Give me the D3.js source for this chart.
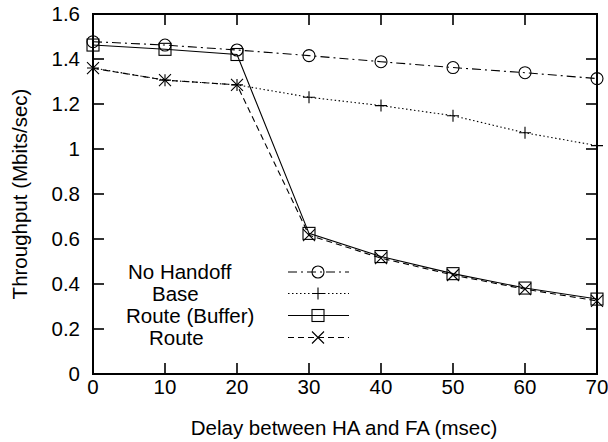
<!DOCTYPE html>
<html>
<head>
<meta charset="utf-8">
<script src="https://cdn.jsdelivr.net/npm/d3@7"></script>
<style>
  body { margin: 0; background: #fff; }
  text { font-family: "Liberation Sans", Arial, sans-serif; fill: #000; }
</style>
</head>
<body>
<div id="chart-area"></div>
<script>
// data
var delays = [0, 10, 20, 30, 40, 50, 60, 70];
var noHandoff = [1.477, 1.462, 1.440, 1.415, 1.388, 1.362, 1.339, 1.313];
var base = [1.360, 1.306, 1.285, 1.230, 1.193, 1.148, 1.072, 1.015];
var routeBuffer = [1.462, 1.443, 1.420, 0.625, 0.522, 0.446, 0.382, 0.333];
var route = [1.359, 1.306, 1.285, 0.617, 0.515, 0.440, 0.377, 0.325];
var xTicks = [0, 10, 20, 30, 40, 50, 60, 70];
var yTicks = [0, 0.2, 0.4, 0.6, 0.8, 1, 1.2, 1.4, 1.6];

var width = 608,
    height = 442;
var plotL = 93, plotR = 597, plotT = 14, plotB = 374;
var fontSize = 20.5;

var svg = d3.select("#chart-area").append("svg")
  .attr("width", width)
  .attr("height", height);

var x = d3.scaleLinear().domain([0, 70]).range([plotL, plotR]);
var y = d3.scaleLinear().domain([0, 1.6]).range([plotB, plotT]);

var series = [
  {name: "No Handoff", values: noHandoff, dash: "9,4,2,4", marker: "circle"},
  {name: "Base", values: base, dash: "1.5,2.5", marker: "plus"},
  {name: "Route (Buffer)", values: routeBuffer, dash: null, marker: "square"},
  {name: "Route", values: route, dash: "6,4", marker: "cross"}
];

// ticks (inward, mirrored)
var tickLen = 11;
xTicks.forEach(function(t) {
  svg.append("line").attr("x1", x(t)).attr("x2", x(t))
    .attr("y1", plotB).attr("y2", plotB - tickLen)
    .attr("stroke", "#000").attr("stroke-width", 1.6);
  svg.append("line").attr("x1", x(t)).attr("x2", x(t))
    .attr("y1", plotT).attr("y2", plotT + tickLen)
    .attr("stroke", "#000").attr("stroke-width", 1.6);
  svg.append("text").attr("x", x(t)).attr("y", 394)
    .attr("text-anchor", "middle").attr("font-size", fontSize).text(t);
});
yTicks.forEach(function(t) {
  svg.append("line").attr("x1", plotL).attr("x2", plotL + tickLen)
    .attr("y1", y(t)).attr("y2", y(t))
    .attr("stroke", "#000").attr("stroke-width", 1.6);
  svg.append("line").attr("x1", plotR).attr("x2", plotR - tickLen)
    .attr("y1", y(t)).attr("y2", y(t))
    .attr("stroke", "#000").attr("stroke-width", 1.6);
  svg.append("text").attr("x", 80).attr("y", y(t) + 7)
    .attr("text-anchor", "end").attr("font-size", fontSize).text(t);
});

svg.append("rect")
  .attr("x", plotL).attr("y", plotT)
  .attr("width", plotR - plotL).attr("height", plotB - plotT)
  .attr("fill", "none").attr("stroke", "#000").attr("stroke-width", 2);

svg.append("text").attr("x", 344).attr("y", 435)
  .attr("text-anchor", "middle").attr("font-size", fontSize)
  .text("Delay between HA and FA (msec)");
svg.append("text")
  .attr("transform", "translate(27," + ((plotT + plotB) / 2) + ") rotate(-90)")
  .attr("text-anchor", "middle").attr("font-size", fontSize)
  .text("Throughput (Mbits/sec)");

function drawMarker(g, kind, cx, cy) {
  var s = 6;
  if (kind === "circle") {
    g.append("circle").attr("cx", cx).attr("cy", cy).attr("r", s)
      .attr("fill", "none").attr("stroke", "#000").attr("stroke-width", 1.1);
  } else if (kind === "square") {
    g.append("rect").attr("x", cx - s).attr("y", cy - s)
      .attr("width", 2 * s).attr("height", 2 * s)
      .attr("fill", "none").attr("stroke", "#000").attr("stroke-width", 1.1);
  } else if (kind === "plus") {
    g.append("path").attr("d", "M" + (cx - s) + "," + cy + "H" + (cx + s) +
      "M" + cx + "," + (cy - s) + "V" + (cy + s))
      .attr("stroke", "#000").attr("stroke-width", 1.1);
  } else {
    g.append("path").attr("d", "M" + (cx - s) + "," + (cy - s) + "L" + (cx + s) + "," + (cy + s) +
      "M" + (cx - s) + "," + (cy + s) + "L" + (cx + s) + "," + (cy - s))
      .attr("stroke", "#000").attr("stroke-width", 1.1);
  }
}

var line = d3.line()
  .x(function(d, i) { return x(delays[i]); })
  .y(function(d) { return y(d); });

series.forEach(function(s) {
  var g = svg.append("g");
  g.append("path").datum(s.values)
    .attr("d", line)
    .attr("fill", "none").attr("stroke", "#000").attr("stroke-width", 1.1)
    .attr("stroke-dasharray", s.dash);
  s.values.forEach(function(v, i) {
    drawMarker(g, s.marker, x(delays[i]), y(v));
  });
});

// legend
var legY = [272, 293.5, 315.5, 337.5];
var legX = [128, 152, 126, 149];
series.forEach(function(s, i) {
  var g = svg.append("g");
  g.append("text").attr("x", legX[i]).attr("y", legY[i] + 7)
    .attr("font-size", fontSize).text(s.name);
  g.append("line").attr("x1", 288).attr("x2", 349)
    .attr("y1", legY[i]).attr("y2", legY[i])
    .attr("stroke", "#000").attr("stroke-width", 1.1)
    .attr("stroke-dasharray", s.dash);
  drawMarker(g, s.marker, 318, legY[i]);
});
</script>
</body>
</html>
